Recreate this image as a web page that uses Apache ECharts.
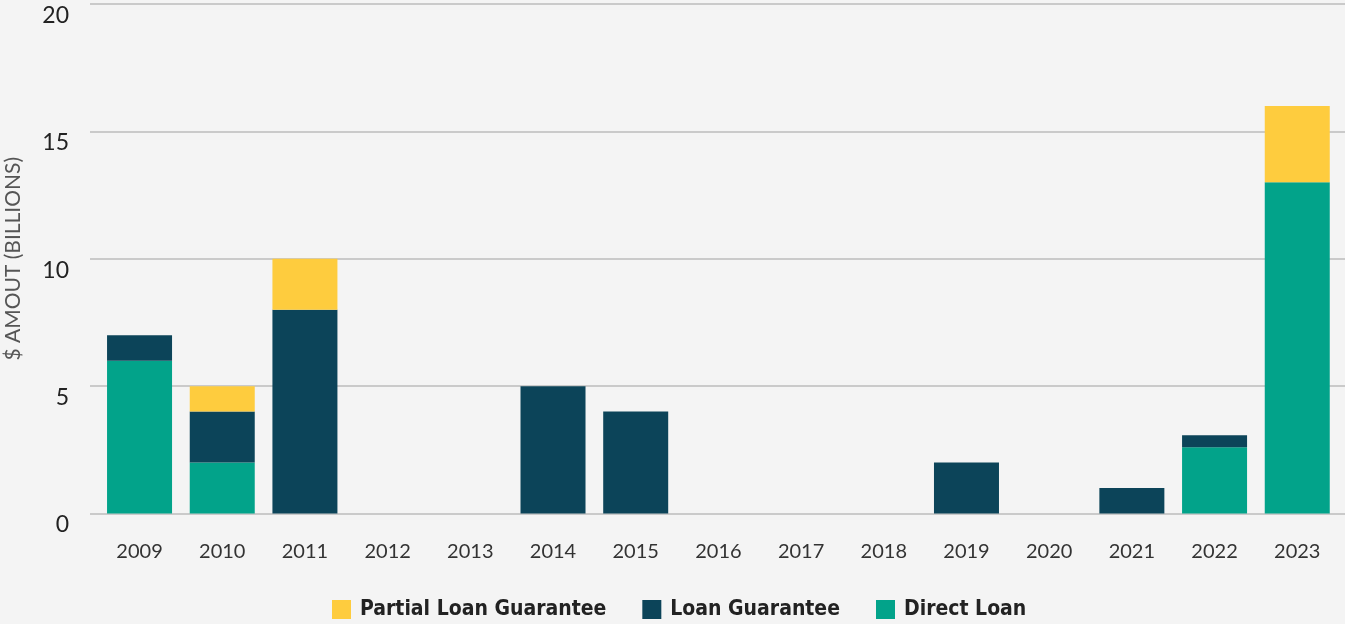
<!DOCTYPE html>
<html>
<head>
<meta charset="utf-8">
<script src="https://cdn.jsdelivr.net/npm/echarts@6/dist/echarts.min.js"></script>
<style>
  html, body { margin: 0; padding: 0; background: #f4f4f4; }
  #chart { width: 1345px; height: 624px; }
</style>
</head>
<body>
<div id="chart"></div>
<script>
// Amounts in $ billions
const years = ['2009', '2010', '2011', '2012', '2013', '2014', '2015', '2016',
  '2017', '2018', '2019', '2020', '2021', '2022', '2023'];
const directLoan = [6, 2, 0, 0, 0, 0, 0, 0, 0, 0, 0, 0, 0, 2.6, 13];
const loanGuarantee = [1, 2, 8, 0, 0, 5, 4, 0, 0, 0, 2, 0, 1, 0.47, 0];
const partialLoanGuarantee = [0, 1, 2, 0, 0, 0, 0, 0, 0, 0, 0, 0, 0, 0, 3];
const yTicks = { min: 0, max: 20, interval: 5 };

const COLORS = {
  partial: '#fecc3e',
  guarantee: '#0c4459',
  direct: '#02a38a',
};

const FONT = 'Lato, "Open Sans", sans-serif';

const chart = echarts.init(document.getElementById('chart'), null, { renderer: 'canvas' });

// Two grids: the wide one only carries the y axis + gridlines (they run
// past the first/last category), the narrower one holds the bars.
// outerBoundsMode 'none' so v6 doesn't shove the grid right to fit the axis name.
const gridTop = 4;
const gridBottom = 110.5;

chart.setOption({
  backgroundColor: '#f4f4f4',
  animation: false,
  grid: [
    { left: 90, right: 0, top: gridTop, bottom: gridBottom, outerBoundsMode: 'none', containLabel: false },
    { left: 98.2, right: 6.4, top: gridTop, bottom: gridBottom, outerBoundsMode: 'none', containLabel: false },
  ],
  legend: {
    data: ['Partial Loan Guarantee', 'Loan Guarantee', 'Direct Loan'],
    left: 327,
    top: 594,
    itemWidth: 19,
    itemHeight: 19,
    itemGap: 36,
    icon: 'rect',
    textStyle: {
      color: '#222',
      fontSize: 21,
      fontWeight: 'bold',
      fontFamily: '"Liberation Sans Narrow", "DejaVu Sans Condensed", sans-serif',
      padding: [0, 0, 0, 4],
    },
  },
  xAxis: [
    { gridIndex: 0, type: 'value', show: false, min: 0, max: 1 },
    {
      gridIndex: 1,
      type: 'category',
      data: years,
      axisLine: { show: false },
      axisTick: { show: false },
      axisLabel: { color: '#333', fontSize: 20, fontFamily: FONT, margin: 28 },
    },
  ],
  yAxis: [
    {
      gridIndex: 0,
      type: 'value',
      min: yTicks.min,
      max: yTicks.max,
      interval: yTicks.interval,
      name: '$ AMOUT (BILLIONS)',
      nameLocation: 'middle',
      nameGap: 66,
      nameTextStyle: { color: '#555', fontSize: 21, fontFamily: FONT },
      axisLine: { show: false },
      axisTick: { show: false },
      axisLabel: {
        color: '#222',
        fontSize: 23,
        fontFamily: FONT,
        margin: 21,
        verticalAlign: 'top',
      },
      splitLine: { lineStyle: { color: '#bdbdbd', width: 1.6 } },
    },
    {
      gridIndex: 1,
      type: 'value',
      min: yTicks.min,
      max: yTicks.max,
      interval: yTicks.interval,
      show: false,
      splitLine: { show: false },
    },
  ],
  series: [
    {
      name: 'Direct Loan',
      type: 'bar',
      stack: 'total',
      xAxisIndex: 1,
      yAxisIndex: 1,
      barWidth: 65,
      itemStyle: { color: COLORS.direct },
      data: directLoan,
    },
    {
      name: 'Loan Guarantee',
      type: 'bar',
      stack: 'total',
      xAxisIndex: 1,
      yAxisIndex: 1,
      barWidth: 65,
      itemStyle: { color: COLORS.guarantee },
      data: loanGuarantee,
    },
    {
      name: 'Partial Loan Guarantee',
      type: 'bar',
      stack: 'total',
      xAxisIndex: 1,
      yAxisIndex: 1,
      barWidth: 65,
      itemStyle: { color: COLORS.partial },
      data: partialLoanGuarantee,
    },
  ],
});
</script>
</body>
</html>
